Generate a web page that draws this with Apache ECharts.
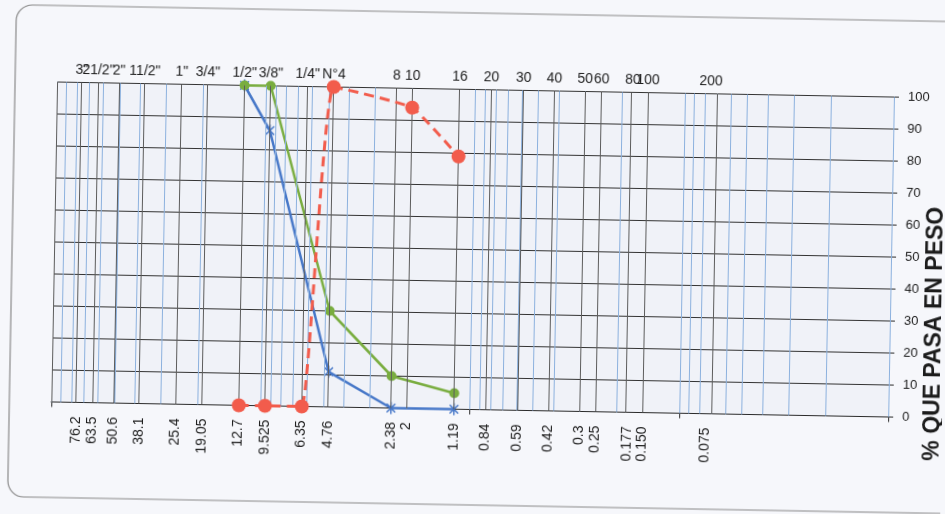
<!DOCTYPE html>
<html><head><meta charset="utf-8">
<script src="https://cdn.jsdelivr.net/npm/echarts@6/dist/echarts.min.js"></script>
<style>
html,body{margin:0;padding:0;background:#f6f7fb;overflow:hidden;width:945px;height:514px}
#c{width:945px;height:514px;transform:rotate(1.03deg);transform-origin:50% 50%}
</style></head><body><div id="c"></div>
<script>
// sieve openings (mm) and their names
const sieveSizes = [76.2, 63.5, 50.6, 38.1, 25.4, 19.05, 12.7, 9.525, 6.35, 4.76, 2.38, 2.0, 1.19, 0.84, 0.59, 0.42, 0.3, 0.25, 0.177, 0.150, 0.075];
const sieveNames = ['3"', '21/2"', '2"', '11/2"', '1"', '3/4"', '1/2"', '3/8"', '1/4"', 'N°4', '8', '10', '16', '20', '30', '40', '50', '60', '80', '100', '200'];
const sizeLabels = ['76.2', '63.5', '50.6', '38.1', '25.4', '19.05', '12.7', '9.525', '6.35', '4.76', '2.38', '2', '1.19', '0.84', '0.59', '0.42', '0.3', '0.25', '0.177', '0.150', '0.075'];
// log paper minor lines (mm)
const logLines = [0.01, 0.02, 0.03, 0.04, 0.05, 0.06, 0.07, 0.08, 0.09,
  0.1, 0.2, 0.3, 0.4, 0.5, 0.6, 0.7, 0.8, 0.9,
  1, 2, 3, 4, 5, 6, 7, 8, 9,
  10, 20, 30, 40, 50, 60, 70, 80, 90, 100];
const yMin = 0, yMax = 100, yStep = 10;
// curves: % passing
const blueSizes = [12.7, 9.525, 4.76, 2.38, 1.19];
const blueValues = [100, 86, 11, 0, 0];
const greenSizes = [12.7, 9.525, 4.76, 2.38, 1.19];
const greenValues = [100, 100, 30, 10, 5];
const redSizes = [12.7, 9.525, 6.35, 4.76, 2.0, 1.19];
const redValues = [0, 0, 0, 100, 94, 79];

const FONT = '"Liberation Sans", Arial, sans-serif';
const star = 'path://M-1,-8H1V8H-1Z M-6.4,-5L-5,-6.4L6.4,5L5,6.4Z M5,-6.4L6.4,-5L-5,6.4L-6.4,5Z';
const pairs = (xs, ys) => xs.map((x, i) => [x, ys[i]]);

function textSeries(texts, yVal, place) {
  return {
    type: 'custom', silent: true, clip: false, z: 6,
    data: sieveSizes.map(v => [v, yVal]),
    encode: { x: 0, y: 1 },
    renderItem: function (params, api) {
      const p = api.coord([api.value(0), api.value(1)]);
      const t = texts[params.dataIndex];
      if (place === 'bottom') {
        return { type: 'text', x: p[0], y: p[1] + 14, rotation: Math.PI / 2,
          style: { text: t, fill: '#1c1c1c', font: '14px ' + FONT, align: 'right', verticalAlign: 'middle' } };
      }
      return { type: 'text', x: p[0], y: p[1] - 12,
        style: { text: t, fill: '#1c1c1c', font: '14px ' + FONT, align: 'center', verticalAlign: 'middle' } };
    }
  };
}

const chart = echarts.init(document.getElementById('c'), null, { renderer: 'canvas' });
chart.setOption({
  animation: false,
  backgroundColor: 'transparent',
  graphic: [{
    type: 'rect', silent: true, z: -10,
    shape: { x: 12, y: 13, width: 980, height: 492, r: 16 },
    style: { fill: 'none', stroke: '#8a8a8a', lineWidth: 1.2 }
  }],
  grid: { left: 54, right: 54, top: 89.5, bottom: 104.5, show: true, backgroundColor: '#f0f2f8', borderWidth: 0,
    containLabel: false, outerBoundsMode: 'none' },
  xAxis: {
    type: 'log', logBase: 10, min: 0.01, max: 100, inverse: true,
    axisLine: { show: true, lineStyle: { color: '#2a2a2a', width: 1.2 } },
    axisTick: { show: true, length: 5, lineStyle: { color: '#2a2a2a' } },
    axisLabel: { show: false },
    splitLine: { show: false }, minorTick: { show: false }
  },
  yAxis: {
    type: 'value', position: 'right', min: yMin, max: yMax, interval: yStep,
    name: '% QUE PASA EN PESO', nameLocation: 'middle', nameGap: 33, nameMoveOverlap: false,
    nameTextStyle: { fontFamily: FONT, fontWeight: 'bold', fontSize: 23, color: '#1c1c1c', padding: [0, 152, 0, 0] },
    axisLine: { show: true, lineStyle: { color: '#2a2a2a', width: 1 } },
    axisTick: { show: true, length: 5, lineStyle: { color: '#2a2a2a' } },
    axisLabel: { color: '#1c1c1c', fontSize: 13, fontFamily: FONT, margin: 14 },
    splitLine: { show: true, lineStyle: { color: '#333', width: 1.2 } }
  },
  series: [
    { type: 'line', data: [], silent: true, z: 1,
      markLine: { silent: true, symbol: ['none', 'none'], animation: false, label: { show: false },
        lineStyle: { color: '#8cb1de', width: 1, type: 'solid' },
        data: logLines.map(v => ({ xAxis: v })) } },
    { type: 'line', data: [], silent: true, z: 1,
      markLine: { silent: true, symbol: ['none', 'none'], animation: false, label: { show: false },
        lineStyle: { color: '#5c5c5c', width: 1, type: 'solid' },
        data: [100].concat(sieveSizes).map(v => ({ xAxis: v })) } },
    { type: 'line', data: pairs(blueSizes, blueValues), clip: false, z: 3,
      symbol: star, symbolSize: 12, symbolKeepAspect: true,
      lineStyle: { color: '#4677c8', width: 2.5 }, itemStyle: { color: '#4677c8' } },
    { type: 'line', data: pairs(greenSizes, greenValues), clip: false, z: 4,
      symbol: 'circle', symbolSize: 10,
      lineStyle: { color: '#79ad3f', width: 2.5 }, itemStyle: { color: '#79ad3f' } },
    { type: 'line', data: pairs(redSizes, redValues), clip: false, z: 5, smooth: 0.12,
      symbol: 'circle', symbolSize: 14,
      lineStyle: { color: '#f25c4c', width: 3, type: [10, 6] }, itemStyle: { color: '#f25c4c' } },
    textSeries(sieveNames, yMax, 'top'),
    textSeries(sizeLabels, yMin, 'bottom')
  ]
});
</script></body></html>
